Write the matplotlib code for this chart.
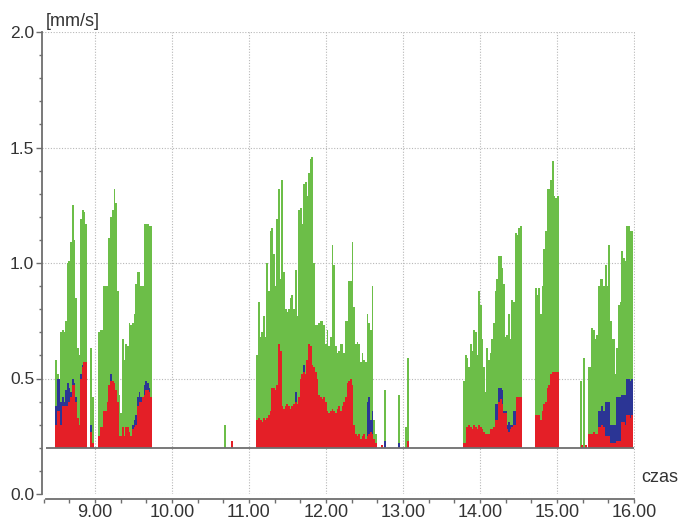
import matplotlib
matplotlib.use("Agg")
import matplotlib.pyplot as plt
import numpy as np
from matplotlib.ticker import FixedLocator

plt.rcParams["font.family"] = ["Liberation Sans", "DejaVu Sans"]

# ---------------- data (velocity in mm/s, time in hours) ----------------
BASE = 0.2                 # base level of the recording
STEP_MIN = 1.3             # sampling interval of the record, minutes

# cluster start times (hours)
A_START = 8.4935
B_START = 11.108
C_START = 13.792
D_START = 14.727
E_START = 15.307

A_GREEN = [0.58, 0.52, 0.50, 0.70, 0.71, 0.70, 0.75, 1.00, 1.01, 1.09, 1.25, 1.10, 0.85, 0.63, 0.60,
           1.19, 1.23, 1.22, 1.17, 0, 0, 0.63, 0.42, 0, 0, 0, 0.70, 0.71, 0.71, 0.90, 0.90, 0.90,
           1.11, 1.20, 1.23, 1.32, 1.26, 0.88, 0.43, 0.35, 0.67, 0.58, 0.65, 0.64, 0.74, 0.73, 0.74,
           0.78, 0.91, 0.96, 0.96, 0.90, 0.90, 1.17, 1.17, 1.17, 1.16, 1.16]
A_RED = [0.30, 0.36, 0.36, 0.30, 0.38, 0.38, 0.38, 0.38, 0.40, 0.42, 0.47, 0.47, 0.40, 0.33, 0.30,
         0.50, 0.55, 0.57, 0.57, 0, 0, 0.27, 0.22, 0, 0, 0, 0.25, 0.29, 0.29, 0.36, 0.36, 0.40,
         0.47, 0.49, 0.49, 0.48, 0.45, 0.40, 0.25, 0.25, 0.29, 0.25, 0.29, 0.29, 0.27, 0.25, 0.28,
         0.29, 0.30, 0.38, 0.40, 0.40, 0.42, 0.43, 0.45, 0.45, 0.44, 0.42]
A_BLUE = [0.38, 0.50, 0.50, 0.40, 0.42, 0.40, 0.45, 0.48, 0.46, 0.44, 0.50, 0.48, 0.42, 0, 0,
          0.52, 0.56, 0, 0, 0, 0, 0.30, 0, 0, 0, 0, 0, 0, 0, 0, 0, 0,
          0, 0.52, 0, 0, 0, 0, 0, 0, 0, 0, 0, 0, 0, 0, 0.30,
          0.32, 0.34, 0.42, 0.44, 0.42, 0, 0.47, 0.49, 0.48, 0.46, 0]

B_GREEN = [0.60, 0.83, 0.68, 0.70, 0.77, 0.68, 1.00, 0.88, 1.14, 1.15,
           1.04, 0.90, 1.19, 1.32, 0.93, 1.36, 0.96, 0.80, 0.79, 0.80,
           0.85, 0.86, 0.80, 0.97, 0.77, 1.23, 1.24, 1.17, 1.34, 1.35,
           1.29, 1.39, 1.45, 1.46, 1.00, 0.73, 0.73, 0.74, 0.75, 0.75,
           0.73, 0.65, 0.71, 0.64, 0.68, 1.08, 0.99, 0.64, 0.61, 0.62,
           0.65, 0.65, 0.61, 0.75, 0.75, 0.92, 0.92, 1.09, 0.81, 0.65,
           0.66, 0.65, 0.57, 0.61, 0.58, 0.57, 0.78, 0.74, 0.71, 0.90,
           0.32, 0.26]
B_RED = [0.32, 0.33, 0.32, 0.31, 0.33, 0.32, 0.33, 0.34, 0.36,
         0.46, 0.46, 0.45, 0.47,
         0.65, 0.62,
         0.38, 0.37, 0.38, 0.39, 0.38, 0.37, 0.38, 0.39, 0.40, 0.39, 0.42,
         0.50, 0.52, 0.53, 0.52, 0.58,
         0.65, 0.64,
         0.56, 0.55, 0.53, 0.50,
         0.43, 0.42, 0.41, 0.42, 0.40,
         0.36, 0.35, 0.36, 0.37, 0.36, 0.35,
         0.37, 0.38, 0.36, 0.38, 0.40, 0.42,
         0.48, 0.49, 0.50, 0.47,
         0.30,
         0.26, 0.25, 0.26, 0.24, 0.25, 0.26, 0.24, 0.25, 0.26, 0.27, 0.26,
         0.24, 0.22]
B_BLUE = [0, 0, 0, 0, 0, 0, 0, 0, 0, 0,
          0, 0, 0, 0, 0, 0, 0, 0, 0, 0,
          0, 0, 0, 0.44, 0, 0, 0, 0, 0.56, 0,
          0, 0, 0, 0, 0, 0, 0, 0, 0, 0,
          0, 0, 0, 0, 0, 0, 0, 0, 0, 0,
          0, 0, 0, 0, 0, 0, 0, 0, 0, 0,
          0, 0, 0, 0, 0, 0, 0.40, 0.42, 0.32, 0.36,
          0, 0]

C_GREEN = [0.49, 0.60, 0.59, 0.55, 0.65, 0.62, 0.71, 0.70, 0.60, 0.88,
           0.82, 0.67, 0.55, 0.44, 0.63, 0.58, 0.61, 0.67, 0.74, 0.88,
           0.93, 1.03, 1.03, 0.98, 0.91, 0.68, 0.69, 0.78, 0.67, 0.84,
           0.83, 1.13, 1.12, 1.15, 1.16]
C_RED = [0.22, 0.22, 0.29, 0.30, 0.29, 0.28, 0.30, 0.29, 0.28, 0.30,
         0.29, 0.28, 0.27, 0.26, 0.26, 0.26, 0.28, 0.28, 0.29, 0.32,
         0.32, 0.40, 0.41, 0.39, 0.35, 0.35, 0.28, 0.27, 0.28, 0.29,
         0.30, 0.30, 0.42, 0.42, 0.42]
C_BLUE = [0, 0, 0, 0, 0, 0, 0, 0, 0, 0,
          0, 0, 0, 0, 0, 0, 0, 0, 0, 0.39,
          0.39, 0.46, 0.46, 0.45, 0.36, 0.36, 0.30, 0.31, 0.30, 0.30,
          0.36, 0.36, 0, 0, 0]

D_GREEN = [0.89, 0.86, 0.89, 0.78, 0.90, 1.06, 1.14, 1.32, 1.32, 1.36, 1.44, 1.29, 1.28, 1.29]
D_RED = [0.34, 0.34, 0.34, 0.32, 0.36, 0.39, 0.40, 0.46, 0.47, 0.52, 0.53, 0.53, 0.53, 0.53]
D_BLUE = [0, 0, 0, 0, 0, 0, 0, 0, 0, 0, 0, 0, 0, 0]

E_GREEN = [0.49, 0.21, 0.59, 0.21, 0, 0.55, 0.55, 0.72, 0.71, 0.67,
           0.69, 0.90, 0.93, 0.93, 0.90, 0.99, 0.90, 1.08, 0.75, 0.67,
           0.67, 0.52, 0.63, 0.82, 0.83, 1.05, 1.02, 1.01, 1.16, 1.16,
           1.14, 1.14]
E_RED = [0, 0.21, 0, 0.21, 0, 0.26, 0.26, 0.26, 0.27, 0.26,
         0.26, 0.29, 0.29, 0.30, 0.29, 0.25, 0.25, 0.25, 0.22, 0.22,
         0.22, 0.22, 0.23, 0.23, 0.23, 0.31, 0.31, 0.30, 0.34, 0.34,
         0.33, 0.34]
E_BLUE = [0, 0, 0, 0, 0, 0, 0, 0, 0, 0,
          0, 0.36, 0.36, 0.38, 0.36, 0.40, 0.40, 0.40, 0.30, 0.30,
          0.30, 0.30, 0.42, 0.42, 0.42, 0.43, 0.43, 0.43, 0.50, 0.50,
          0.49, 0.50]

# isolated single events
ISO_TIME = [10.688, 10.779, 12.723, 12.770, 12.952, 13.039, 13.061]
ISO_GREEN = [0.30, 0, 0, 0.45, 0.43, 0.29, 0.59]
ISO_RED = [0, 0.23, 0.21, 0, 0, 0, 0.23]
ISO_BLUE = [0, 0, 0, 0.23, 0.22, 0, 0]

Y_TICKS = [0.0, 0.5, 1.0, 1.5, 2.0]
Y_LABELS = ["0.0", "0.5", "1.0", "1.5", "2.0"]
X_TICKS = [9, 10, 11, 12, 13, 14, 15, 16]
X_LABELS = ["9.00", "10.00", "11.00", "12.00", "13.00", "14.00", "15.00", "16.00"]

# ---------------- style ----------------
GREEN = "#6cbe48"
BLUE = "#2b3595"
RED = "#e41f27"
AXIS_C = "#6e6e6e"
TEXT_C = "#333333"
GRID_C = "#b8b8b8"

W, H = 678, 522
fig = plt.figure(figsize=(W / 100, H / 100), dpi=100)
ax = fig.add_axes([42 / W, 1 - 494 / H, (635 - 42) / W, (494 - 32) / H])
ax.set_xlim(8.312, 16.013)
ax.set_ylim(0, 2.0)

step_h = STEP_MIN / 60.0
bar_w = step_h * 1.04

clusters = [
    (A_START, A_GREEN, A_BLUE, A_RED),
    (B_START, B_GREEN, B_BLUE, B_RED),
    (C_START, C_GREEN, C_BLUE, C_RED),
    (D_START, D_GREEN, D_BLUE, D_RED),
    (E_START, E_GREEN, E_BLUE, E_RED),
]


def draw(times, vals, color):
    t = np.asarray(times, dtype=float)
    v = np.asarray(vals, dtype=float)
    m = v > BASE
    ax.bar(t[m], v[m] - BASE, bottom=BASE, width=bar_w, color=color,
           linewidth=0, zorder=2)


for start, g, b, r in clusters:
    t = start + np.arange(len(g)) * step_h
    draw(t, g, GREEN)
    draw(t, b, BLUE)
    draw(t, r, RED)

draw(ISO_TIME, ISO_GREEN, GREEN)
draw(ISO_TIME, ISO_BLUE, BLUE)
draw(ISO_TIME, ISO_RED, RED)

# base line
ax.plot([8.37, 16.0], [BASE, BASE], color=AXIS_C, lw=1.3, zorder=5,
        solid_capstyle="butt")

# grid
ax.set_axisbelow(True)
ax.grid(True, which="major", color=GRID_C, linestyle=(0, (1, 1.5)), lw=0.8)

# spines
for s in ("top", "right"):
    ax.spines[s].set_visible(False)
ax.spines["left"].set_color(AXIS_C)
ax.spines["left"].set_linewidth(1.3)
ax.spines["bottom"].set_position(("outward", 3.6))
ax.spines["bottom"].set_bounds(8.37, 16.0)
ax.spines["bottom"].set_color(AXIS_C)
ax.spines["bottom"].set_linewidth(1.3)

# ticks
ax.yaxis.set_major_locator(FixedLocator(Y_TICKS))
ax.set_yticklabels(Y_LABELS)
ax.yaxis.set_minor_locator(FixedLocator(np.arange(0, 2.01, 0.1)))
ax.tick_params(axis="y", which="major", length=4, width=1, color=AXIS_C,
               direction="out", labelsize=12.5, pad=1.5, labelcolor=TEXT_C)
ax.tick_params(axis="y", which="minor", length=2.2, width=1, color=AXIS_C,
               direction="out")

ax.xaxis.set_major_locator(FixedLocator(X_TICKS))
ax.set_xticklabels(X_LABELS)
minor_x = [h + k / 3 for h in range(8, 16) for k in (1, 2)]
ax.xaxis.set_minor_locator(FixedLocator(minor_x))
ax.tick_params(axis="x", which="major", length=3, width=1, color=AXIS_C,
               direction="out", labelsize=13, pad=0.5, labelcolor=TEXT_C)
ax.tick_params(axis="x", which="minor", length=3, width=1, color=AXIS_C,
               direction="out")

fig.text(46 / W, 1 - 21 / H, "[mm/s]", fontsize=13, color=TEXT_C,
         ha="left", va="center")
fig.text(641 / W, 1 - 477 / H, "czas", fontsize=13, color=TEXT_C,
         ha="left", va="center")

fig.savefig("out.png", dpi=100)
